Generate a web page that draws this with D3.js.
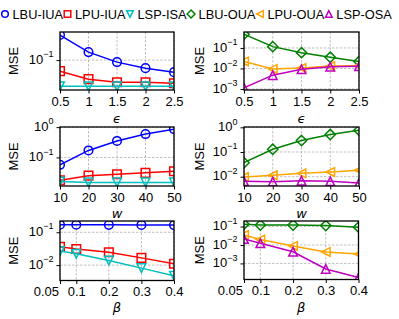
<!DOCTYPE html>
<html>
<head>
<meta charset="utf-8">
<script src="https://cdn.jsdelivr.net/npm/d3@7"></script>
<style>
body { margin: 0; background: #fff; }
text { font-family: "Liberation Sans", Arial, sans-serif; }
</style>
</head>
<body>
<svg width="399" height="319"></svg>
<script>
// x values of each row
var epsX = [0.5, 1, 1.5, 2, 2.5];
var wX = [10, 20, 30, 40, 50];
var betaX = [0.05, 0.1, 0.2, 0.3, 0.4];

// series names
var names = ["LBU-IUA", "LPU-IUA", "LSP-ISA", "LBU-OUA", "LPU-OUA", "LSP-OSA"];

// MSE vs epsilon
var lbuIuaEps = [0.42, 0.158, 0.089, 0.063, 0.05];
var lpuIuaEps = [0.053, 0.0335, 0.028, 0.028, 0.0266];
var lspIsaEps = [0.0224, 0.0224, 0.0222, 0.0222, 0.0222];
var lbuOuaEps = [0.47, 0.116, 0.059, 0.035, 0.022];
var lpuOuaEps = [0.022, 0.0095, 0.0105, 0.013, 0.0137];
var lspOsaEps = [0.00115, 0.0047, 0.0091, 0.0122, 0.0128];

// MSE vs w
var lbuIuaW = [0.057, 0.17, 0.35, 0.59, 0.86];
var lpuIuaW = [0.0177, 0.025, 0.028, 0.031, 0.035];
var lspIsaW = [0.016, 0.015, 0.015, 0.015, 0.015];
var lbuOuaW = [0.037, 0.129, 0.29, 0.51, 0.76];
var lpuOuaW = [0.0097, 0.0114, 0.0137, 0.0156, 0.0182];
var lspOsaW = [0.0065, 0.0063, 0.0069, 0.0065, 0.0056];

// MSE vs beta
var lbuIuaB = [0.17, 0.17, 0.168, 0.167, 0.165];
var lpuIuaB = [0.036, 0.031, 0.0245, 0.0166, 0.011];
var lspIsaB = [0.027, 0.022, 0.0138, 0.0081, 0.0047];
var lbuOuaB = [0.135, 0.12, 0.12, 0.113, 0.093];
var lpuOuaB = [0.035, 0.02, 0.0089, 0.0042, 0.0032];
var lspOsaB = [0.021, 0.0123, 0.0043, 0.0005, 0.00017];

// tick values
var epsTicks = [0.5, 1, 1.5, 2, 2.5];
var wTicks = [10, 20, 30, 40, 50];
var betaTicks = [0.05, 0.1, 0.2, 0.3, 0.4];

var colors = ["#0000ff", "#ff0000", "#00bfbf", "#008000", "#ffa500", "#bf00bf"];
var shapes = ["circle", "square", "tridown", "diamond", "trileft", "triup"];

function markerPath(shape, h) {
  if (shape == "circle") return d3.symbol(d3.symbolCircle, Math.PI * h * h)();
  if (shape == "square") return "M" + (-h) + "," + (-h) + "h" + 2 * h + "v" + 2 * h + "h" + (-2 * h) + "Z";
  if (shape == "tridown") return "M0," + h + "L" + (-h) + "," + (-h) + "L" + h + "," + (-h) + "Z";
  if (shape == "triup") return "M0," + (-h) + "L" + (-h) + "," + h + "L" + h + "," + h + "Z";
  if (shape == "trileft") return "M" + (-h) + ",0L" + h + "," + (-h) + "L" + h + "," + h + "Z";
  var d = h * 1.2;
  return "M0," + (-d) + "L" + d + ",0L0," + d + "L" + (-d) + ",0Z";
}

var svg = d3.select("svg");

// panels: position, domains, series
var panels = [
  { x: 60, y: 32, w: 114, h: 58, xd: [0.5, 2.5], yd: [0.018, 0.5], xs: epsX, xt: epsTicks, yt: [0.1], s: [0, 1, 2], v: [lbuIuaEps, lpuIuaEps, lspIsaEps], lab: "\u03f5", ly: 123 },
  { x: 244, y: 32, w: 115, h: 58, xd: [0.5, 2.5], yd: [0.00089, 0.6], xs: epsX, xt: epsTicks, yt: [0.1, 0.01, 0.001], s: [3, 4, 5], v: [lbuOuaEps, lpuOuaEps, lspOsaEps], lab: "\u03f5", ly: 123 },
  { x: 60, y: 127, w: 114, h: 59, xd: [10, 50], yd: [0.0114, 1.01], xs: wX, xt: wTicks, yt: [1, 0.1], s: [0, 1, 2], v: [lbuIuaW, lpuIuaW, lspIsaW], lab: "w", ly: 218 },
  { x: 244, y: 127, w: 115, h: 59, xd: [10, 50], yd: [0.0042, 1.03], xs: wX, xt: wTicks, yt: [1, 0.1, 0.01], s: [3, 4, 5], v: [lbuOuaW, lpuOuaW, lspOsaW], lab: "w", ly: 218 },
  { x: 60, y: 221, w: 114, h: 59.5, xd: [0.05, 0.4], yd: [0.0034, 0.22], xs: betaX, xt: betaTicks, yt: [0.1, 0.01], s: [0, 1, 2], v: [lbuIuaB, lpuIuaB, lspIsaB], lab: "\u03b2", ly: 312 },
  { x: 244, y: 221, w: 114.5, h: 58.5, xd: [0.05, 0.4], yd: [0.000134, 0.2], xs: betaX, xt: betaTicks, yt: [0.1, 0.01, 0.001], s: [3, 4, 5], v: [lbuOuaB, lpuOuaB, lspOsaB], lab: "\u03b2", ly: 312 }
];

panels.forEach(function(p, pi) {
  var g = svg.append("g").attr("transform", "translate(" + p.x + "," + p.y + ")");
  var x = d3.scaleLinear().domain(p.xd).range([0, p.w]);
  var y = d3.scaleLog().domain(p.yd).range([p.h, 0]);

  g.append("clipPath").attr("id", "clip" + pi)
    .append("rect").attr("width", p.w).attr("height", p.h);

  // grid
  g.selectAll(".gx").data(p.xt).enter().append("line")
    .attr("x1", function(d) { return x(d); }).attr("x2", function(d) { return x(d); })
    .attr("y1", 0).attr("y2", p.h)
    .style("stroke", "#b0b0b0").style("stroke-width", 0.8).style("stroke-dasharray", "2.5,1.5");
  g.selectAll(".gy").data(p.yt).enter().append("line")
    .attr("y1", function(d) { return y(d); }).attr("y2", function(d) { return y(d); })
    .attr("x1", 0).attr("x2", p.w)
    .style("stroke", "#b0b0b0").style("stroke-width", 0.8).style("stroke-dasharray", "2.5,1.5");

  // x axis
  var xa = g.append("g").attr("transform", "translate(0," + p.h + ")")
    .call(d3.axisBottom(x).tickValues(p.xt).tickFormat(d3.format("~g")).tickSize(3.5).tickPadding(3));
  xa.select(".domain").remove();
  xa.selectAll("text").style("font-size", "13px").attr("fill", "#000");
  if (p.xt == betaTicks) {
    xa.selectAll("text").filter(function(d) { return d == 0.05; })
      .attr("text-anchor", "end").attr("x", -1.5);
  }

  // y axis
  var ya = g.append("g")
    .call(d3.axisLeft(y).tickValues(p.yt).tickFormat("").tickSize(3.5).tickPadding(3.5));
  ya.select(".domain").remove();
  ya.selectAll(".tick text").each(function(d) {
    var t = d3.select(this).attr("fill", "#000").attr("dy", "0.32em").attr("x", -6.5);
    var e = Math.round(Math.log10(d));
    t.append("tspan").style("font-size", "13px").text("10");
    t.append("tspan").style("font-size", "9px").attr("dy", -6.5)
      .text(e < 0 ? "\u2212" + (-e) : "" + e);
  });

  // lines and markers
  var plot = g.append("g").attr("clip-path", "url(#clip" + pi + ")");
  p.s.forEach(function(si, k) {
    var vals = p.v[k];
    var pts = p.xs.map(function(xv, i) { return [xv, vals[i]]; });
    plot.append("path").datum(pts)
      .attr("d", d3.line().x(function(d) { return x(d[0]); }).y(function(d) { return y(d[1]); }))
      .style("fill", "none").style("stroke", colors[si]).style("stroke-width", 1.5);
    plot.selectAll(".m" + si).data(pts).enter().append("path")
      .attr("transform", function(d) { return "translate(" + x(d[0]) + "," + y(d[1]) + ")"; })
      .attr("d", markerPath(shapes[si], 4.3))
      .style("fill", "none").style("stroke", colors[si]).style("stroke-width", 1.5);
  });

  // frame
  g.append("rect").attr("width", p.w).attr("height", p.h)
    .style("fill", "none").style("stroke", "#000").style("stroke-width", 1.3);

  // labels
  var mx = pi % 2 == 0 ? 13 : 199;
  svg.append("text").attr("transform", "translate(" + (mx + 5) + "," + (p.y + p.h / 2) + ") rotate(-90)")
    .attr("text-anchor", "middle").style("font-size", "13px").text("MSE");
  svg.append("text").attr("x", p.x + p.w / 2).attr("y", p.ly)
    .attr("text-anchor", "middle").style("font-family", "'DejaVu Sans', sans-serif")
    .style("font-style", "italic").style("font-size", "13px").text(p.lab);
});

// legend
var lx = 5;
names.forEach(function(n, i) {
  svg.append("path").attr("transform", "translate(" + lx + ",14)")
    .attr("d", markerPath(shapes[i], 3.3))
    .style("fill", "none").style("stroke", colors[i]).style("stroke-width", 1.5);
  var t = svg.append("text").attr("x", lx + 7.5).attr("y", 18.5)
    .style("font-size", "12.8px").text(n);
  lx = lx + 7.5 + t.node().getComputedTextLength() + 4.5;
});
</script>
</body>
</html>
